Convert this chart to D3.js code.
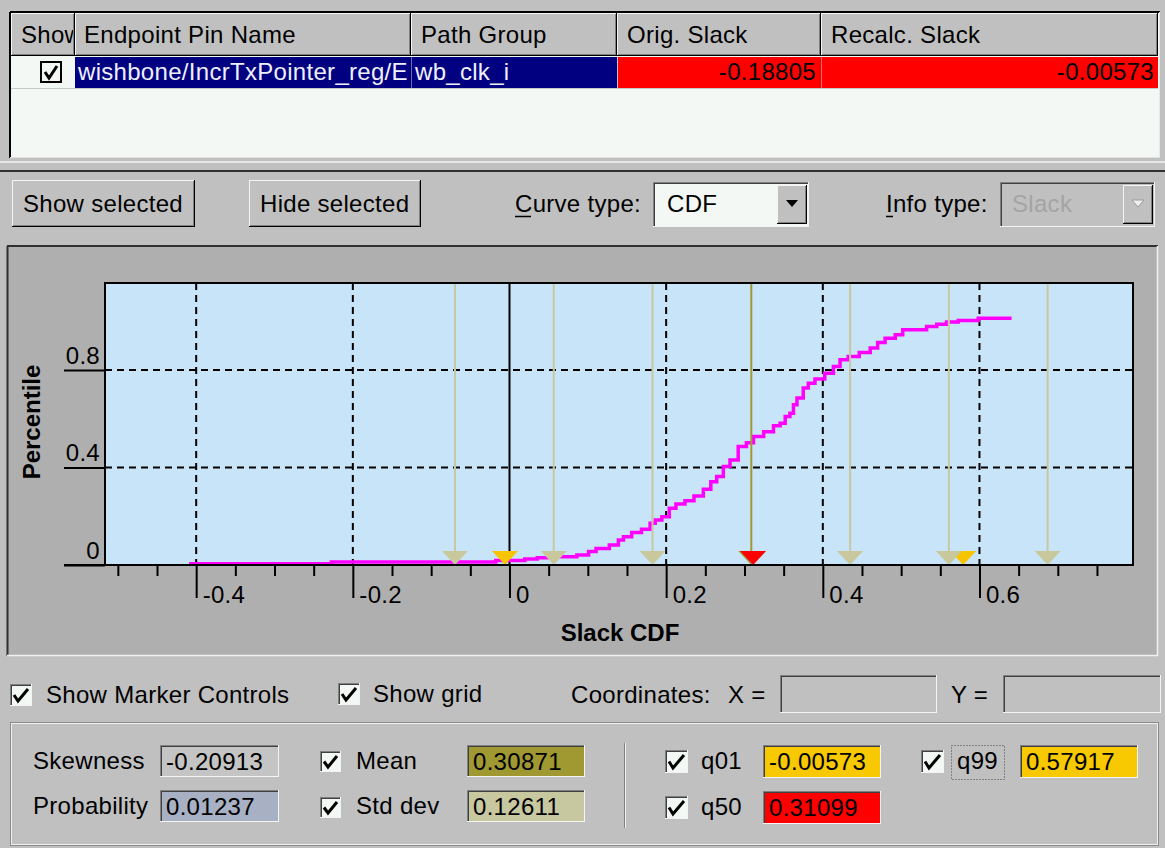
<!DOCTYPE html>
<html><head><meta charset="utf-8">
<script src="https://cdn.jsdelivr.net/npm/d3@7"></script>
<style>
body{margin:0;background:#c0c0c0;overflow:hidden;}
svg{display:block;font-family:"Liberation Sans",Arial,Helvetica,sans-serif;}
</style></head><body>
<svg id="c" width="1165" height="848"></svg>
<script>
// ---------------- data ----------------
const columnHeaders = ["Show", "Endpoint Pin Name", "Path Group", "Orig. Slack", "Recalc. Slack"];
const rowPin = "wishbone/IncrTxPointer_reg/E";
const rowGroup = "wb_clk_i";
const rowOrigSlack = "-0.18805";
const rowRecalcSlack = "-0.00573";

const cdfSlack = [-0.409, -0.046, 0.011, 0.028, 0.043, 0.073, 0.099, 0.103, 0.118, 0.137, 0.141, 0.150,
  0.162, 0.175, 0.184, 0.188, 0.201, 0.207, 0.218, 0.230, 0.241, 0.254, 0.260, 0.269, 0.277, 0.286,
  0.298, 0.307, 0.316, 0.333, 0.341, 0.350, 0.354, 0.362, 0.363, 0.371, 0.379, 0.384, 0.396, 0.409,
  0.418, 0.426, 0.439, 0.454, 0.467, 0.473, 0.486, 0.499, 0.505, 0.528, 0.537, 0.554, 0.562, 0.584,
  0.613, 0.641];
const cdfPercentile = [0.005, 0.012, 0.018, 0.025, 0.030, 0.034, 0.041, 0.055, 0.068, 0.082, 0.103, 0.116,
  0.133, 0.147, 0.171, 0.185, 0.198, 0.233, 0.250, 0.264, 0.283, 0.311, 0.342, 0.363, 0.404, 0.431,
  0.486, 0.502, 0.527, 0.547, 0.571, 0.582, 0.609, 0.623, 0.657, 0.685, 0.726, 0.746, 0.763, 0.787,
  0.814, 0.842, 0.855, 0.872, 0.890, 0.913, 0.930, 0.945, 0.965, 0.965, 0.979, 0.988, 0.997, 1.003,
  1.012, 1.012];

const xMajorTicks = [-0.4, -0.2, 0, 0.2, 0.4, 0.6];
const xMinorTicks = [-0.5, -0.45, -0.35, -0.3, -0.25, -0.15, -0.1, -0.05, 0.05, 0.1, 0.15, 0.25, 0.3, 0.35, 0.45, 0.5, 0.55, 0.65, 0.7, 0.75];
const yTicks = [0, 0.4, 0.8];
const xGrid = [-0.4, -0.2, 0.2, 0.4, 0.6];
const yGrid = [0.4, 0.8];

const meanValue = 0.30871;
const stdValue = 0.12611;
const sigmaMarkers = [-0.0696, 0.0565, 0.1826, 0.4348, 0.5609, 0.6870];
const quantileNames = ["q01", "q50", "q99"];
const quantileValues = [-0.00573, 0.31099, 0.57917];
const skewness = "-0.20913";
const probability = "0.01237";

// ---------------- helpers ----------------
const svg = d3.select("#c");
const FS = 24;
const LS = "0.3px";

function txt(g, x, y, s, opt = {}) {
  return g.append("text").attr("x", x).attr("y", y).text(s)
    .attr("font-size", opt.size || FS)
    .attr("font-weight", opt.bold ? "bold" : null)
    .attr("fill", opt.fill || "#000")
    .attr("text-anchor", opt.anchor || "start")
    .attr("letter-spacing", opt.ls === undefined ? LS : opt.ls);
}
function hline(g, x1, x2, y, c, w = 1) {
  g.append("line").attr("x1", x1).attr("x2", x2).attr("y1", y).attr("y2", y).attr("stroke", c).attr("stroke-width", w);
}
function vline(g, x, y1, y2, c, w = 1) {
  g.append("line").attr("x1", x).attr("x2", x).attr("y1", y1).attr("y2", y2).attr("stroke", c).attr("stroke-width", w);
}
function bevel(g, x, y, w, h, fill, raised, dark = "#000") {
  g.append("rect").attr("x", x).attr("y", y).attr("width", w).attr("height", h).attr("fill", fill);
  const tl = raised ? "#f4f4f4" : "#808080";
  const br = raised ? dark : "#f4f4f4";
  hline(g, x, x + w, y + 0.5, tl); vline(g, x + 0.5, y, y + h, tl);
  hline(g, x, x + w, y + h - 0.5, br); vline(g, x + w - 0.5, y, y + h, br);
  if (raised) {
    hline(g, x + 1, x + w - 1, y + h - 1.5, "#808080"); vline(g, x + w - 1.5, y + 1, y + h - 1, "#808080");
  } else {
    hline(g, x + 1, x + w - 1, y + 1.5, "#404040"); vline(g, x + 1.5, y + 1, y + h - 1, "#404040");
  }
}
function checkbox(g, x, y, s = 21) {
  bevel(g, x, y, s, s, "#f4f8f4", false);
  g.append("path").attr("d", `M${x + 4},${y + s / 2} L${x + 8},${y + s - 5} L${x + s - 4},${y + 5}`)
    .attr("fill", "none").attr("stroke", "#000").attr("stroke-width", 3);
}

// ---------------- top table ----------------
const tbl = svg.append("g");
tbl.append("rect").attr("x", 10).attr("y", 12).attr("width", 1150).attr("height", 146).attr("fill", "#f4f8f4");
const colX = [11, 75, 411, 617, 821, 1158];
for (let i = 0; i < 5; i++) {
  bevel(tbl, colX[i], 13, colX[i + 1] - colX[i], 43, "#c0c0c0", true);
}
const defs = svg.append("defs");
for (let i = 0; i < 5; i++) {
  defs.append("clipPath").attr("id", "cc" + i).append("rect")
    .attr("x", colX[i]).attr("y", 0).attr("width", colX[i + 1] - colX[i] - 2).attr("height", 200);
}
const hx = [21, 84, 421, 627, 831];
columnHeaders.forEach((h, i) => txt(tbl, hx[i], 43, h).attr("clip-path", `url(#cc${i})`));
// row
tbl.append("rect").attr("x", 75).attr("y", 57).attr("width", 542).attr("height", 31).attr("fill", "#000080");
tbl.append("rect").attr("x", 618).attr("y", 57).attr("width", 540).attr("height", 31).attr("fill", "#ff0000");
vline(tbl, 411.5, 57, 88, "#6a6aa8");
vline(tbl, 617.5, 57, 88, "#c0c0c0");
vline(tbl, 821.5, 57, 88, "#e07070");
hline(tbl, 11, 1158, 88.5, "#c8c8c8");
tbl.append("rect").attr("x", 41).attr("y", 62).attr("width", 20).attr("height", 20).attr("fill", "#f4f8f4")
  .attr("stroke", "#000").attr("stroke-width", 2);
tbl.append("path").attr("d", "M45,72 L49,78 L57,66").attr("fill", "none").attr("stroke", "#000").attr("stroke-width", 3);
txt(tbl, 78, 80, rowPin, { fill: "#eef0ff" });
txt(tbl, 415, 80, rowGroup, { fill: "#eef0ff" });
txt(tbl, 816, 80, rowOrigSlack, { anchor: "end" });
txt(tbl, 1154, 80, rowRecalcSlack, { anchor: "end" });
// table frame
hline(tbl, 10, 1160, 12, "#000", 2);
vline(tbl, 10, 12, 158, "#000", 2);
hline(tbl, 10, 1160, 157.5, "#e0e0e0", 1);
vline(tbl, 1159.5, 12, 158, "#e8e8e8", 1);
hline(tbl, 0, 1165, 162, "#e6e6e6", 2);
hline(tbl, 0, 1165, 171, "#303030", 2);

// ---------------- toolbar ----------------
const tb = svg.append("g");
bevel(tb, 12, 180, 183, 47, "#c0c0c0", true);
txt(tb, 23, 212, "Show selected");
bevel(tb, 249, 180, 172, 47, "#c0c0c0", true);
txt(tb, 260, 212, "Hide selected");
txt(tb, 515, 212, "Curve type:");
hline(tb, 515, 531, 216.5, "#000", 1.5);
bevel(tb, 653, 182, 156, 45, "#f4f8f4", false);
bevel(tb, 777, 185, 30, 39, "#c0c0c0", true);
tb.append("path").attr("d", "M786,200 L798,200 L792,207 Z").attr("fill", "#000");
txt(tb, 667, 212, "CDF");
txt(tb, 886, 212, "Info type:");
hline(tb, 886, 893, 216.5, "#000", 1.5);
bevel(tb, 1000, 182, 155, 45, "#c0c0c0", false);
bevel(tb, 1123, 185, 30, 39, "#c0c0c0", true);
tb.append("path").attr("d", "M1132,200 L1144,200 L1138,207 Z").attr("fill", "#f0f0f0").attr("stroke", "#9a9a9a").attr("stroke-width", 1);
txt(tb, 1012, 212, "Slack", { fill: "#a4a4a4" });

// ---------------- plot panel ----------------
const panel = svg.append("g");
panel.append("rect").attr("x", 7).attr("y", 246).attr("width", 1151).attr("height", 410).attr("fill", "#afafaf");
hline(panel, 7, 1158, 246, "#303030", 2);
vline(panel, 7.5, 246, 656, "#303030", 2);
hline(panel, 7, 1158, 655.5, "#f0f0f0", 1.5);
vline(panel, 1157.5, 246, 656, "#f0f0f0", 1.5);

const PL = 105, PR = 1133, PT = 283, PB = 565;
const x = d3.scaleLinear().domain([-0.5164, 0.796]).range([PL, PR]);
const y = d3.scaleLinear().domain([0, 1.157]).range([PB, PT]);

const plot = svg.append("g");
plot.append("rect").attr("x", PL).attr("y", PT).attr("width", PR - PL).attr("height", PB - PT).attr("fill", "#c8e4f8");

// grid
plot.selectAll(".gx").data(xGrid).join("line").attr("class", "gx")
  .attr("x1", d => x(d)).attr("x2", d => x(d)).attr("y1", PT).attr("y2", PB)
  .attr("stroke", "#000").attr("stroke-width", 2).attr("stroke-dasharray", "7,5");
plot.selectAll(".gy").data(yGrid).join("line").attr("class", "gy")
  .attr("x1", PL).attr("x2", PR).attr("y1", d => y(d)).attr("y2", d => y(d))
  .attr("stroke", "#000").attr("stroke-width", 2).attr("stroke-dasharray", "7,5");
// zero line
plot.append("line").attr("x1", x(0)).attr("x2", x(0)).attr("y1", PT).attr("y2", PB)
  .attr("stroke", "#000").attr("stroke-width", 2);

// cdf curve
const pts = cdfSlack.map((s, i) => [s, cdfPercentile[i]]);
plot.append("path").datum(pts)
  .attr("d", d3.line().x(d => x(d[0])).y(d => y(d[1])).curve(d3.curveStep))
  .attr("fill", "none").attr("stroke", "#ff00ff").attr("stroke-width", 3.5);

// markers
const TRI_H = 14, TRI_W = 13;
function tri(v, color) {
  plot.append("path")
    .attr("d", `M${x(v) - TRI_W},${PB - TRI_H} L${x(v) + TRI_W},${PB - TRI_H} L${x(v)},${PB} Z`)
    .attr("fill", color);
}
function mline(v, color) {
  plot.append("line").attr("x1", x(v)).attr("x2", x(v)).attr("y1", PT).attr("y2", PB - TRI_H)
    .attr("stroke", color).attr("stroke-width", 2);
}
tri(quantileValues[0], "#f8c400");
tri(quantileValues[2], "#f8c400");
sigmaMarkers.forEach(v => { mline(v, "#c8c8a0"); tri(v, "#c8c89c"); });
mline(meanValue, "#a09830");
tri(meanValue, "#a09830");
tri(quantileValues[1], "#ff0000");

// frame
plot.append("rect").attr("x", PL).attr("y", PT).attr("width", PR - PL).attr("height", PB - PT)
  .attr("fill", "none").attr("stroke", "#000").attr("stroke-width", 2);

// axes
const fmt = d => d === 0 ? "0" : String(d);
const minorAx = plot.append("g").attr("transform", `translate(0,${PB})`)
  .call(d3.axisBottom(x).tickValues(xMinorTicks).tickSize(11).tickFormat(""));
const majorAx = plot.append("g").attr("transform", `translate(0,${PB})`)
  .call(d3.axisBottom(x).tickValues(xMajorTicks).tickSize(33).tickFormat(fmt));
[minorAx, majorAx].forEach(a => {
  a.select(".domain").remove();
  a.selectAll("line").attr("stroke", "#000").attr("stroke-width", 2);
});
majorAx.selectAll("text").attr("x", 6).attr("y", 38).attr("dy", null)
  .attr("text-anchor", "start").attr("font-size", FS).attr("letter-spacing", LS)
  .attr("font-family", null).attr("fill", "#000");

const yAx = plot.append("g").attr("transform", `translate(${PL},0)`)
  .call(d3.axisLeft(y).tickValues(yTicks).tickSize(41).tickFormat(fmt));
yAx.select(".domain").remove();
yAx.selectAll("line").attr("stroke", "#000").attr("stroke-width", 2);
yAx.selectAll("text").attr("x", -5).attr("dy", -7).attr("font-size", FS).attr("letter-spacing", LS)
  .attr("font-family", null).attr("fill", "#000");
hline(plot, 64, PR, PB, "#000", 2);

// axis titles
txt(plot, 620, 641, "Slack CDF", { bold: true, anchor: "middle", ls: "0px" });
txt(plot, 0, 0, "Percentile", { bold: true, anchor: "middle", ls: "0px" })
  .attr("transform", "translate(40,422) rotate(-90)");

// ---------------- bottom controls ----------------
const bt = svg.append("g");
checkbox(bt, 10, 684, 22);
txt(bt, 46, 703, "Show Marker Controls");
checkbox(bt, 338, 683, 22);
txt(bt, 373, 702, "Show grid");
txt(bt, 571, 703, "Coordinates:");
txt(bt, 728, 703, "X =");
bevel(bt, 780, 675, 157, 38, "#c0c0c0", false);
txt(bt, 951, 703, "Y =");
bevel(bt, 1003, 675, 158, 38, "#c0c0c0", false);

// group box
bt.append("rect").attr("x", 10.5).attr("y", 722.5).attr("width", 1148).attr("height", 123)
  .attr("fill", "none").attr("stroke", "#8a8a8a").attr("stroke-width", 1);
bt.append("rect").attr("x", 11.5).attr("y", 723.5).attr("width", 1146).attr("height", 121)
  .attr("fill", "none").attr("stroke", "#f0f0f0").attr("stroke-width", 1);

function valueBox(g, bx, by, w, h, fill, s) {
  bevel(g, bx, by, w, h, fill, false);
  txt(g, bx + 6, by + 25, s);
}
txt(bt, 33, 769, "Skewness");
valueBox(bt, 160, 745, 119, 32, "#c4c4c4", skewness);
txt(bt, 33, 814, "Probability");
valueBox(bt, 160, 790, 119, 32, "#a8b0c4", probability);

checkbox(bt, 320, 751);
txt(bt, 356, 769, "Mean");
valueBox(bt, 467, 745, 118, 32, "#a09830", String(meanValue));
checkbox(bt, 320, 797);
txt(bt, 356, 814, "Std dev");
valueBox(bt, 467, 790, 118, 32, "#c8c8a0", String(stdValue));

vline(bt, 624.5, 743, 828, "#808080", 1);
vline(bt, 625.5, 743, 828, "#f0f0f0", 1);

const qPos = [[665, 750, 701, 763, 745], [665, 796, 701, 763, 791], [921, 750, 957, 1020, 745]];
const qFill = ["#f8c800", "#ff0000", "#f8c800"];
quantileNames.forEach((n, i) => {
  const p = qPos[i];
  checkbox(bt, p[0], p[1], 23);
  txt(bt, p[2], p[1] + 19, n);
  valueBox(bt, p[3], p[4], 118, 33, qFill[i], quantileValues[i].toFixed(5));
});
bt.append("rect").attr("x", 951.5).attr("y", 745.5).attr("width", 53).attr("height", 34)
  .attr("fill", "none").attr("stroke", "#444").attr("stroke-width", 1).attr("stroke-dasharray", "1,2");
</script>
</body></html>
